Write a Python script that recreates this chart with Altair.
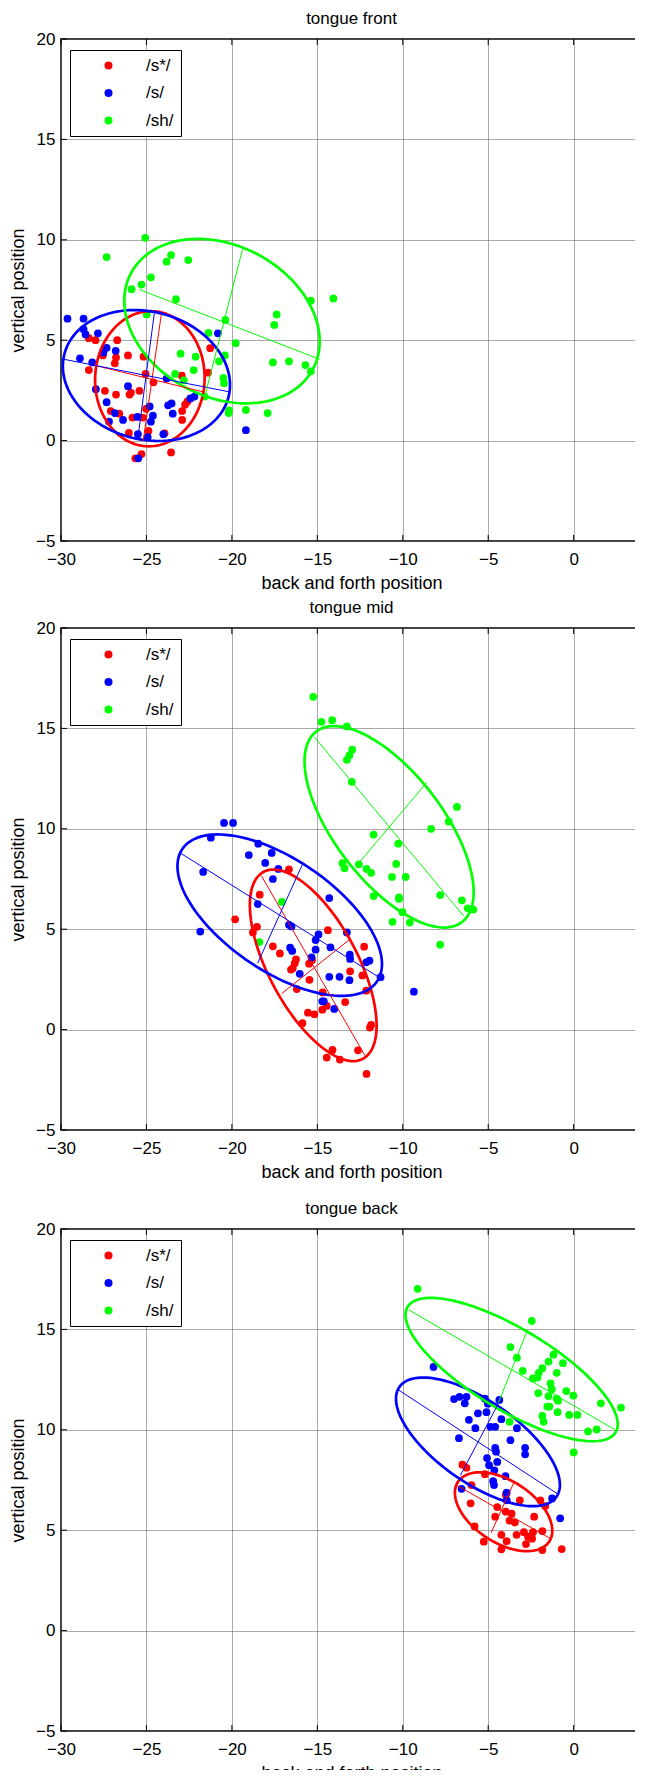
import altair as alt
import pandas as pd

FONT = "Liberation Sans"
GROUPS = ["/s*/", "/s/", "/sh/"]
COLORS = ["#ff0000", "#0000ff", "#00ff00"]
X_TICKS = [-30, -25, -20, -15, -10, -5, 0]
Y_TICKS = [-5, 0, 5, 10, 15, 20]
TITLES = ["tongue front", "tongue mid", "tongue back"]
X_TITLE = "back and forth position"
Y_TITLE = "vertical position"

# ---------------- tongue front ----------------
front_red_x = [-28.37, -27.98, -26.71, -28.37, -27.55, -26.78, -26.85, -26.08, -25.17, -25.05, -24.59, -22.93, -21.39, -21.27, -27.43, -26.78, -25.99, -25.91, -25.41, -27.09, -26.59, -25.82, -25.22, -25.02, -22.91, -22.74, -22.60, -22.91, -26.03, -24.88, -23.94, -25.65, -25.29, -23.56]
front_red_y = [5.10, 5.00, 5.00, 3.51, 4.24, 4.14, 3.85, 4.24, 4.18, 3.32, 2.90, 3.23, 3.38, 4.60, 2.48, 2.29, 2.29, 2.39, 2.48, 1.47, 1.34, 1.15, 1.15, 1.58, 1.47, 1.79, 1.95, 1.03, 0.38, 0.48, 0.36, -0.88, -0.67, -0.59]
front_blue_x = [-29.62, -28.68, -28.68, -28.56, -27.84, -28.89, -28.17, -27.33, -27.52, -26.80, -27.96, -27.33, -26.08, -26.85, -27.19, -26.37, -25.53, -24.81, -24.62, -24.74, -24.93, -25.50, -24.01, -23.73, -23.53, -23.46, -22.43, -22.19, -23.82, -20.82, -19.18, -25.48]
front_blue_y = [6.07, 6.07, 5.55, 5.29, 5.34, 4.10, 3.89, 4.62, 4.39, 4.47, 2.56, 1.91, 2.71, 1.37, 0.95, 1.03, 1.18, 1.70, 1.24, 0.94, 0.17, 0.32, 0.32, 1.76, 1.85, 1.34, 2.10, 2.19, 3.09, 5.34, 0.52, -0.88]
front_green_x = [-27.33, -25.07, -23.82, -23.56, -22.55, -24.74, -25.29, -25.87, -23.27, -24.98, -20.38, -21.37, -19.78, -20.41, -20.75, -22.12, -23.00, -22.24, -23.32, -22.81, -20.50, -20.46, -21.59, -20.17, -20.19, -19.18, -17.91, -17.60, -16.66, -15.70, -15.38, -17.52, -17.38, -15.38, -14.06]
front_green_y = [9.14, 10.10, 8.91, 9.24, 8.99, 8.13, 7.77, 7.54, 7.04, 6.28, 6.01, 5.36, 4.85, 4.24, 3.95, 4.18, 4.33, 3.51, 3.32, 3.00, 3.13, 2.86, 2.19, 1.51, 1.37, 1.53, 1.37, 3.89, 3.95, 3.76, 3.45, 5.76, 6.28, 6.97, 7.08]
# ellipse outlines (order: /s*/, /s/, /sh/): centre, semi-axes, tilt in degrees
front_ell_cx = [-24.8, -25.0, -20.58]
front_ell_cy = [3.08, 3.24, 5.95]
front_ell_a = [3.37, 4.93, 5.88]
front_ell_b = [3.20, 3.20, 3.86]
front_ell_phi = [80.0, -9.5, -18.0]
# principal-axis segments (two per group)
front_seg_g = ["/s*/", "/s*/", "/s/", "/s/", "/sh/", "/sh/"]
front_seg_x1 = [-24.13, -28.08, -29.83, -24.54, -25.40, -19.38]
front_seg_y1 = [6.28, 3.76, 4.05, 6.34, 7.52, 9.52]
front_seg_x2 = [-25.19, -21.66, -20.10, -25.50, -14.86, -21.59]
front_seg_y2 = [-0.02, 2.42, 2.42, 0.13, 4.05, 2.19]

# ---------------- tongue mid ----------------
mid_red_x = [-16.66, -18.37, -19.81, -18.77, -18.53, -14.38, -17.60, -17.19, -16.25, -16.32, -16.44, -16.54, -15.48, -15.31, -12.26, -13.08, -12.36, -15.46, -16.20, -12.14, -14.69, -14.45, -14.71, -13.37, -15.55, -15.17, -15.87, -11.85, -11.92, -14.11, -14.45, -13.68, -12.62, -12.12]
mid_red_y = [7.98, 6.72, 5.49, 4.84, 5.12, 4.95, 4.15, 3.79, 3.50, 3.31, 3.05, 2.99, 3.28, 3.47, 4.13, 2.90, 2.70, 2.48, 2.02, 1.94, 1.85, 1.18, 0.99, 1.37, 0.84, 0.76, 0.32, 0.23, 0.10, -1.01, -1.39, -1.49, -1.03, -2.21]
mid_blue_x = [-20.46, -19.93, -21.23, -21.68, -21.85, -18.46, -19.01, -18.05, -17.67, -17.28, -17.60, -18.49, -14.30, -16.66, -16.51, -14.93, -15.10, -13.27, -15.10, -14.23, -16.59, -16.47, -15.34, -13.10, -13.08, -12.14, -11.95, -16.03, -14.30, -13.70, -13.12, -11.30, -14.71, -14.62, -14.01, -9.35]
mid_blue_y = [10.29, 10.29, 9.56, 7.85, 4.88, 9.26, 8.69, 8.30, 8.80, 8.00, 7.50, 6.25, 6.55, 5.22, 5.14, 4.74, 4.46, 4.84, 3.98, 4.10, 4.08, 3.92, 3.60, 3.73, 3.52, 3.35, 3.43, 2.78, 2.63, 2.63, 2.46, 2.61, 1.41, 1.41, 1.03, 1.89]
mid_green_x = [-15.24, -14.76, -14.13, -13.27, -12.96, -13.12, -13.27, -12.98, -6.83, -7.31, -8.34, -11.71, -10.26, -10.38, -13.53, -13.41, -12.57, -12.12, -11.85, -10.63, -9.83, -11.71, -10.22, -10.22, -7.81, -6.54, -6.20, -5.87, -10.02, -10.60, -9.59, -7.81, -17.07, -18.39]
mid_green_y = [16.57, 15.33, 15.41, 15.10, 13.94, 13.66, 13.43, 12.34, 11.09, 10.36, 10.00, 9.71, 9.26, 8.25, 8.29, 8.04, 8.23, 8.00, 7.81, 7.60, 7.60, 6.65, 6.59, 6.51, 6.70, 6.44, 6.04, 5.98, 5.85, 5.37, 5.33, 4.23, 6.36, 4.36]
mid_ell_cx = [-15.24, -17.2, -10.8]
mid_ell_cy = [3.2, 5.7, 10.1]
mid_ell_a = [5.5, 6.6, 6.4]
mid_ell_b = [2.5, 2.9, 2.95]
mid_ell_phi = [-56.0, -28.0, -45.6]
mid_seg_g = ["/s*/", "/s*/", "/s/", "/s/", "/sh/", "/sh/"]
mid_seg_x1 = [-18.27, -17.09, -23.03, -15.89, -15.17, -8.61]
mid_seg_y1 = [7.66, 1.79, 8.80, 8.19, 14.57, 12.29]
mid_seg_x2 = [-12.21, -13.12, -11.51, -18.49, -6.44, -12.57]
mid_seg_y2 = [-1.30, 4.48, 2.67, 3.31, 5.66, 8.30]

# ---------------- tongue back ----------------
back_red_x = [-6.51, -6.27, -5.19, -5.98, -6.03, -3.15, -3.97, -1.95, -1.66, -4.47, -3.97, -3.63, -4.59, -3.44, -2.31, -5.80, -4.23, -3.34, -2.91, -2.38, -1.83, -2.43, -5.26, -3.92, -2.79, -4.23, -1.83, -0.70, -3.75, -2.67]
back_red_y = [8.26, 8.11, 7.79, 7.25, 6.34, 6.49, 6.77, 6.49, 6.20, 6.15, 5.92, 5.82, 5.67, 5.38, 5.67, 5.19, 4.77, 4.77, 4.90, 4.90, 4.96, 4.58, 4.43, 4.45, 4.31, 4.05, 4.01, 4.06, 5.48, 4.68]
back_blue_x = [-8.20, -7.00, -6.68, -6.37, -6.27, -5.19, -5.02, -4.35, -5.60, -5.10, -6.13, -4.23, -5.75, -4.87, -4.59, -3.32, -6.71, -3.70, -4.59, -4.54, -2.84, -2.84, -5.07, -4.95, -4.47, -4.64, -3.99, -4.71, -4.66, -6.56, -3.92, -3.92, -1.26, -0.79]
back_blue_y = [13.13, 11.53, 11.64, 11.32, 11.64, 11.55, 11.30, 11.49, 10.82, 10.88, 10.50, 10.53, 10.08, 10.15, 10.15, 10.08, 9.58, 9.48, 9.10, 8.91, 9.10, 8.78, 8.59, 8.24, 8.40, 7.98, 7.69, 7.44, 7.25, 7.06, 6.87, 6.49, 6.58, 5.59]
back_green_x = [-9.13, -2.45, -3.70, -3.32, -2.98, -2.38, -2.04, -1.83, -1.47, -1.18, -0.63, -2.12, -1.35, -0.99, -1.28, -0.43, -2.07, -1.47, -0.99, -0.02, -0.91, -1.54, -1.42, 1.59, 2.77, -1.83, -1.76, -0.94, -0.26, 0.22, 0.84, 1.35, 0.00, -3.75]
back_green_y = [17.02, 15.42, 14.12, 13.59, 12.94, 12.56, 12.84, 13.07, 13.40, 13.74, 13.32, 12.60, 12.31, 12.84, 12.02, 11.93, 11.83, 11.68, 11.55, 11.70, 11.45, 11.16, 11.16, 11.32, 11.11, 10.69, 10.40, 10.88, 10.74, 10.74, 9.92, 10.02, 8.87, 10.40]
back_ell_cx = [-4.1, -5.6, -3.63]
back_ell_cy = [5.92, 9.4, 13.0]
back_ell_a = [3.07, 5.36, 6.85]
back_ell_b = [1.6, 2.13, 2.1]
back_ell_phi = [-25.8, -29.1, -26.3]
back_seg_g = ["/s*/", "/s*/", "/s/", "/s/", "/sh/", "/sh/"]
back_seg_x1 = [-6.87, -4.83, -10.24, -6.63, -9.64, -2.74]
back_seg_y1 = [7.25, 4.87, 11.98, 7.73, 15.97, 14.89]
back_seg_x2 = [-1.35, -3.51, -0.87, -4.38, 2.38, -4.40]
back_seg_y2 = [4.58, 7.35, 6.77, 11.35, 10.02, 11.35]

W = 581
H = 502


def points_df(rx, ry, bx, by, gx, gy):
    rows = []
    for g, xs, ys in zip(GROUPS, [rx, bx, gx], [ry, by, gy]):
        for x, y in zip(xs, ys):
            rows.append({"g": g, "x": x, "y": y})
    return pd.DataFrame(rows)


def panel(title, pts, ecx, ecy, ea, eb, ephi, sg, sx1, sy1, sx2, sy2):
    xs = alt.Scale(domain=[-30, 4], nice=False, zero=False)
    ys = alt.Scale(domain=[-5, 20], nice=False, zero=False)
    cs = alt.Scale(domain=GROUPS, range=COLORS)
    xax = alt.Axis(values=X_TICKS, title=X_TITLE, labelPadding=10, labelFlush=False,
                   labelOverlap=False, titleY=42, titleBaseline="middle")
    yax = alt.Axis(values=Y_TICKS, title=Y_TITLE, labelPadding=6, labelFlush=False,
                   labelOverlap=False, titleX=-43, titleY=H / 2, titleBaseline="middle",
                   titleAlign="center", titleAngle=270)
    legend = alt.Legend(title=None, orient="none", legendX=9, legendY=11, padding=7,
                        strokeColor="black", fillColor="white", labelFont=FONT,
                        labelFontSize=17, labelColor="black", symbolType="circle",
                        symbolSize=64, symbolStrokeWidth=0, symbolOffset=23,
                        labelOffset=29, rowPadding=9.5)

    def X(f):
        return alt.X(f, scale=xs, axis=xax, title=X_TITLE)

    def Y(f):
        return alt.Y(f, scale=ys, axis=yax, title=Y_TITLE)

    pts_layer = alt.Chart(pts).mark_circle(size=60, opacity=1).encode(
        x=X("x:Q"),
        y=Y("y:Q"),
        color=alt.Color("g:N", scale=cs, legend=legend),
    )

    ell = pd.DataFrame({"g": GROUPS, "cx": ecx, "cy": ecy, "a": ea, "b": eb, "phi": ephi})
    ell_layer = alt.Chart(ell).transform_calculate(
        t="sequence(0, 361, 3)"
    ).transform_flatten(["t"]).transform_calculate(
        ex="datum.cx + datum.a*cos(datum.t*PI/180)*cos(datum.phi*PI/180) - datum.b*sin(datum.t*PI/180)*sin(datum.phi*PI/180)",
        ey="datum.cy + datum.a*cos(datum.t*PI/180)*sin(datum.phi*PI/180) + datum.b*sin(datum.t*PI/180)*cos(datum.phi*PI/180)",
    ).mark_line(strokeWidth=2.7).encode(
        x=X("ex:Q"),
        y=Y("ey:Q"),
        color=alt.Color("g:N", scale=cs, legend=None),
        order="t:Q",
    )

    seg = pd.DataFrame({"g": sg, "x1": sx1, "y1": sy1, "x2": sx2, "y2": sy2})
    seg_layer = alt.Chart(seg).mark_rule(strokeWidth=1).encode(
        x=X("x1:Q"),
        y=Y("y1:Q"),
        x2="x2:Q",
        y2="y2:Q",
        color=alt.Color("g:N", scale=cs, legend=None),
    )

    xt = pd.DataFrame({"v": X_TICKS})
    yt = pd.DataFrame({"v": Y_TICKS})
    tick_top = alt.Chart(xt).mark_rule(color="black", strokeWidth=1).encode(
        x=X("v:Q"), y=alt.value(0), y2=alt.value(6))
    tick_bot = alt.Chart(xt).mark_rule(color="black", strokeWidth=1).encode(
        x=X("v:Q"), y=alt.value(H), y2=alt.value(H - 6))
    tick_left = alt.Chart(yt).mark_rule(color="black", strokeWidth=1).encode(
        y=Y("v:Q"), x=alt.value(0), x2=alt.value(6))
    tick_right = alt.Chart(yt).mark_rule(color="black", strokeWidth=1).encode(
        y=Y("v:Q"), x=alt.value(W), x2=alt.value(W - 6))

    title_layer = alt.Chart(pd.DataFrame({"t": [title]})).mark_text(
        font=FONT, fontSize=17, color="black", align="center", baseline="middle"
    ).encode(text="t:N", x=alt.value(W / 2), y=alt.value(-20))

    return alt.layer(pts_layer, ell_layer, seg_layer, tick_top, tick_bot, tick_left, tick_right,
                     title_layer).properties(width=W, height=H)


def spacer(h):
    return alt.Chart(pd.DataFrame({"v": [0]})).mark_point(opacity=0).encode(
        x=alt.X("v:Q", axis=None), y=alt.Y("v:Q", axis=None)
    ).properties(width=W, height=h, view=alt.ViewBackground(stroke="transparent"))


p1 = panel(TITLES[0], points_df(front_red_x, front_red_y, front_blue_x, front_blue_y, front_green_x, front_green_y),
           front_ell_cx, front_ell_cy, front_ell_a, front_ell_b, front_ell_phi,
           front_seg_g, front_seg_x1, front_seg_y1, front_seg_x2, front_seg_y2)
p2 = panel(TITLES[1], points_df(mid_red_x, mid_red_y, mid_blue_x, mid_blue_y, mid_green_x, mid_green_y),
           mid_ell_cx, mid_ell_cy, mid_ell_a, mid_ell_b, mid_ell_phi,
           mid_seg_g, mid_seg_x1, mid_seg_y1, mid_seg_x2, mid_seg_y2)
p3 = panel(TITLES[2], points_df(back_red_x, back_red_y, back_blue_x, back_blue_y, back_green_x, back_green_y),
           back_ell_cx, back_ell_cy, back_ell_a, back_ell_b, back_ell_phi,
           back_seg_g, back_seg_x1, back_seg_y1, back_seg_x2, back_seg_y2)

chart = alt.vconcat(p1, spacer(86.8), p2, spacer(99), p3, spacing=0, bounds="flush").resolve_scale(
    color="independent"
).properties(
    padding={"left": 0, "top": 1, "right": -9, "bottom": -13}
).configure_view(
    stroke="black", strokeWidth=1.5
).configure_axis(
    labelFont=FONT, labelFontSize=17, labelColor="black",
    titleFont=FONT, titleFontSize=18, titleColor="black", titleFontWeight="normal",
    domain=False, ticks=False, tickSize=0,
    grid=True, gridColor="#555555", gridDash=[1, 1], gridWidth=1, gridOpacity=1,
)

chart.save("out.html", embed_options={"renderer": "svg", "actions": False})
